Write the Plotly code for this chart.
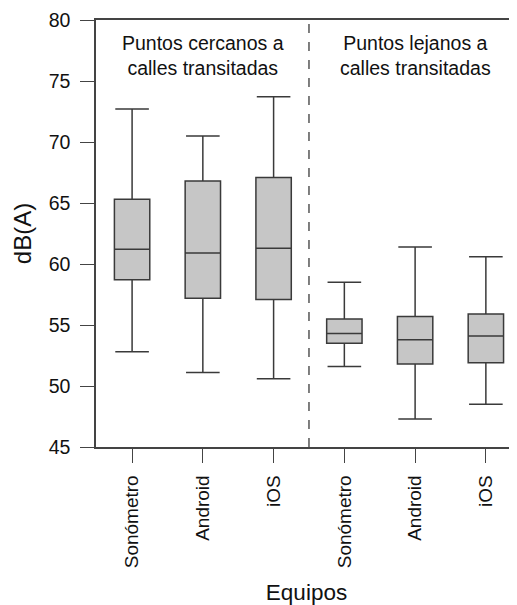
import plotly.graph_objects as go

categories = ["Sonómetro", "Android", "iOS", "Sonómetro", "Android", "iOS"]
groups = ["Puntos cercanos a<br>calles transitadas", "Puntos lejanos a<br>calles transitadas"]
upper = [72.7, 70.5, 73.7, 58.5, 61.4, 60.6]
q3 = [65.3, 66.8, 67.1, 55.5, 55.7, 55.9]
median = [61.2, 60.9, 61.3, 54.3, 53.8, 54.1]
q1 = [58.7, 57.2, 57.1, 53.5, 51.8, 51.9]
lower = [52.8, 51.1, 50.6, 51.6, 47.3, 48.5]
y_ticks = [45, 50, 55, 60, 65, 70, 75, 80]

xpos = list(range(len(categories)))
FONT = "Liberation Sans, Arial, sans-serif"

fig = go.Figure()
fig.add_trace(go.Box(
    x=xpos, q1=q1, median=median, q3=q3, lowerfence=lower, upperfence=upper,
    boxpoints=False, width=0.5, whiskerwidth=0.95,
    fillcolor="#c6c6c6", line=dict(color="#3a3a3a", width=1.5),
    showlegend=False, hoverinfo="skip",
))

split = len(categories) / 2 - 0.5
fig.add_shape(type="line", x0=split, x1=split, y0=45, y1=80, xref="x", yref="y",
              line=dict(color="#555555", width=1.5, dash="dash"))

for i, g in enumerate(groups):
    fig.add_annotation(x=1 + 3 * i, y=0.916, xref="x", yref="paper", text=g,
                       showarrow=False, font=dict(family=FONT, size=19.5, color="#111111"),
                       xanchor="center", yanchor="middle", align="center")

fig.update_layout(
    width=517, height=605,
    margin=dict(l=88, r=8, t=12, b=166),
    plot_bgcolor="white", paper_bgcolor="white",
    font=dict(family=FONT, size=18, color="#111111"),
)
fig.update_xaxes(
    range=[-0.51, 5.44], tickmode="array", tickvals=xpos, ticktext=categories,
    tickangle=-90, tickfont=dict(size=19), ticks="outside", ticklen=14,
    ticklabelstandoff=5,
    tickcolor="#444444", showline=True, linecolor="#444444", linewidth=1.5,
    mirror=True, showgrid=False, zeroline=False, automargin=False,
    title=dict(text="Equipos", font=dict(size=22.5), standoff=17),
)
fig.update_yaxes(
    range=[45, 80], tickmode="array", tickvals=y_ticks, ticks="outside", ticklen=14,
    ticklabelstandoff=6,
    tickcolor="#444444", showline=True, linecolor="#444444", linewidth=1.5,
    showgrid=False, zeroline=False, tickfont=dict(size=19.5), automargin=False,
    title=dict(text="dB(A)", font=dict(size=24), standoff=10),
)
fig.write_html("out.html")
